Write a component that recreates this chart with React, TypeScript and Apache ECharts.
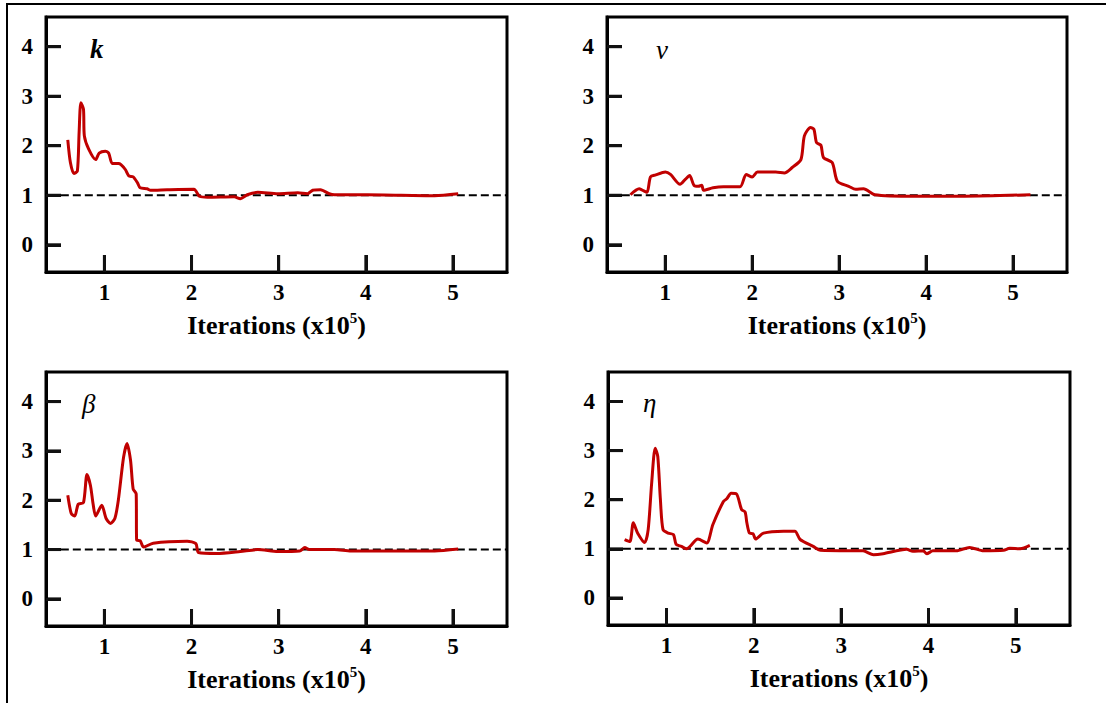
import React, { useEffect, useRef } from "react";
import * as echarts from "echarts";

// Convergence traces: [iterations (x10^5), value]
const kData: number[][] = [
  [0.58, 2.12], [0.61, 1.66], [0.65, 1.44], [0.69, 1.49], [0.71, 2.27], [0.73, 2.87],
  [0.76, 2.74], [0.77, 2.2], [0.82, 1.93], [0.9, 1.72], [0.94, 1.85], [1.01, 1.89],
  [1.05, 1.85], [1.09, 1.64], [1.16, 1.64], [1.19, 1.62], [1.24, 1.52], [1.28, 1.39],
  [1.33, 1.37], [1.38, 1.25], [1.41, 1.15], [1.49, 1.13], [1.53, 1.1], [1.72, 1.11],
  [2.03, 1.12], [2.06, 1.06], [2.09, 0.98], [2.18, 0.96], [2.49, 0.97], [2.56, 0.93],
  [2.64, 1.01], [2.76, 1.06], [2.99, 1.03], [3.22, 1.05], [3.33, 1.03], [3.39, 1.1],
  [3.48, 1.11], [3.58, 1.03], [3.64, 1.01], [4.02, 1.01], [4.79, 0.99], [5.06, 1.03],
];

const nuData: number[][] = [
  [0.6, 1.01], [0.7, 1.13], [0.73, 1.11], [0.79, 1.06], [0.83, 1.37], [0.89, 1.41],
  [1.0, 1.47], [1.06, 1.42], [1.17, 1.22], [1.23, 1.32], [1.28, 1.4], [1.33, 1.2],
  [1.38, 1.18], [1.42, 1.2], [1.44, 1.1], [1.55, 1.15], [1.67, 1.17], [1.86, 1.17],
  [1.93, 1.42], [2.0, 1.37], [2.06, 1.47], [2.27, 1.47], [2.37, 1.45], [2.46, 1.56],
  [2.56, 1.72], [2.6, 2.2], [2.67, 2.37], [2.71, 2.33], [2.74, 2.06], [2.79, 2.01],
  [2.82, 1.76], [2.92, 1.66], [2.98, 1.28], [3.11, 1.18], [3.19, 1.12], [3.28, 1.13],
  [3.41, 1.01], [3.87, 0.98], [4.44, 0.98], [5.2, 1.01],
];

const betaData: number[][] = [
  [0.58, 2.1], [0.62, 1.73], [0.66, 1.68], [0.7, 1.92], [0.76, 1.95], [0.8, 2.52],
  [0.84, 2.3], [0.87, 1.93], [0.9, 1.68], [0.97, 1.9], [1.02, 1.63], [1.07, 1.53],
  [1.12, 1.63], [1.16, 2.0], [1.22, 2.87], [1.26, 3.15], [1.3, 2.81], [1.33, 2.23],
  [1.365, 2.13], [1.37, 1.19], [1.41, 1.18], [1.45, 1.05], [1.56, 1.13], [1.95, 1.17],
  [2.05, 1.12], [2.08, 0.94], [2.29, 0.92], [2.56, 0.96], [2.76, 1.0], [2.99, 0.96],
  [3.24, 0.97], [3.3, 1.04], [3.35, 1.0], [3.64, 1.0], [3.83, 0.97], [4.79, 0.97],
  [5.06, 1.01],
];

const etaData: number[][] = [
  [0.52, 1.19], [0.58, 1.15], [0.62, 1.53], [0.67, 1.32], [0.75, 1.13], [0.79, 1.39],
  [0.83, 2.34], [0.87, 3.05], [0.9, 2.88], [0.93, 2.0], [0.96, 1.39], [1.02, 1.32],
  [1.08, 1.29], [1.11, 1.09], [1.17, 1.05], [1.23, 1.0], [1.36, 1.2], [1.46, 1.12],
  [1.53, 1.49], [1.65, 1.96], [1.69, 2.02], [1.74, 2.13], [1.8, 2.12], [1.86, 1.8],
  [1.9, 1.75], [1.92, 1.53], [1.95, 1.32], [1.99, 1.31], [2.02, 1.2], [2.11, 1.32],
  [2.34, 1.36], [2.47, 1.36], [2.53, 1.19], [2.68, 1.05], [2.76, 0.97], [3.1, 0.96],
  [3.25, 0.96], [3.37, 0.88], [3.48, 0.9], [3.75, 0.99], [3.82, 0.95], [3.94, 0.96],
  [3.98, 0.9], [4.05, 0.96], [4.32, 0.96], [4.47, 1.03], [4.63, 0.96], [4.86, 0.97],
  [4.93, 1.01], [5.05, 1.0], [5.16, 1.07],
];

const refLine: number[][] = [[0.5, 1], [5.62, 1]];

const xTicks = [1, 2, 3, 4, 5];
const yTicks = [0, 1, 2, 3, 4];
const panelLabels = ["k", "\u03BD", "\u03B2", "\u03B7"];
const axisTitle = "Iterations (x10";
const axisTitleExp = "5";

const FONT = "Liberation Serif";

export default function App() {
  const ref = useRef<HTMLDivElement>(null);
  useEffect(() => {
    if (!ref.current) return;
    const chart = echarts.init(ref.current, null, { renderer: "svg" });
    const grids = [
      { left: 46, top: 17, width: 461, height: 255 },
      { left: 607, top: 17, width: 460, height: 255 },
      { left: 46, top: 372, width: 461, height: 254 },
      { left: 608, top: 372, width: 462, height: 253 },
    ];
    const datasets = [kData, nuData, betaData, etaData];
    const labelPos = [
      { x: 90, y: 35, weight: "bold" },
      { x: 656, y: 36, weight: "normal" },
      { x: 82, y: 390, weight: "normal" },
      { x: 643, y: 389, weight: "normal" },
    ];

    const option: any = {
      animation: false,
      grid: grids.map((g) => ({ ...g, show: false })),
      xAxis: grids.map((_, i) => ({
        type: "value",
        gridIndex: i,
        min: 0.33,
        max: 5.62,
        axisLine: { show: true, onZero: false, lineStyle: { color: "#000", width: 3 } },
        splitLine: { show: false },
        axisTick: { show: true, inside: true, length: 17, lineStyle: { color: "#111", width: 3 } },
        axisLabel: {
          showMinLabel: false,
          showMaxLabel: false,
          color: "#000",
          fontFamily: FONT,
          fontWeight: "bold",
          fontSize: 23,
          margin: 9,
        },
        name: `{a|${axisTitle}}{s|${axisTitleExp}}{a|)}`,
        nameLocation: "middle",
        nameGap: 38,
        nameTextStyle: {
          fontFamily: FONT,
          fontWeight: "bold",
          fontSize: 26,
          color: "#000",
          rich: {
            a: { fontFamily: FONT, fontWeight: "bold", fontSize: 26, color: "#000", lineHeight: 30 },
            s: { fontFamily: FONT, fontWeight: "bold", fontSize: 15, color: "#000", verticalAlign: "top", lineHeight: 15 },
          },
        },
      })),
      yAxis: grids.map((_, i) => ({
        type: "value",
        gridIndex: i,
        min: -0.55,
        max: 4.6,
        axisLine: { show: true, onZero: false, lineStyle: { color: "#000", width: 3 } },
        splitLine: { show: false },
        axisTick: { show: true, inside: true, length: 15, lineStyle: { color: "#111", width: 3 } },
        axisLabel: {
          showMinLabel: false,
          showMaxLabel: false,
          color: "#000",
          fontFamily: FONT,
          fontWeight: "bold",
          fontSize: 23,
          margin: 13,
        },
      })),
      series: [
        ...datasets.map((d, i) => ({
          type: "line",
          xAxisIndex: i,
          yAxisIndex: i,
          data: refLine,
          showSymbol: false,
          silent: true,
          lineStyle: { color: "#000", width: 2, type: "dashed" },
          z: 2,
        })),
        ...datasets.map((d, i) => ({
          type: "line",
          xAxisIndex: i,
          yAxisIndex: i,
          data: d,
          showSymbol: false,
          smooth: 0.25,
          lineStyle: { color: "#c00000", width: 3 },
          z: 3,
        })),
      ],
    };
    chart.setOption(option);

    // Inside tick marks and panel boxes placed through the axes' own scales.
    const extraEls: any[] = [];
    grids.forEach((g, i) => {
      const bottom = g.top + g.height;
      extraEls.push({
        type: "rect",
        shape: { x: g.left, y: g.top, width: g.width, height: g.height },
        style: { fill: "none", stroke: "#000", lineWidth: 3 },
        silent: true,
      });
      xTicks.forEach((v) => {
        const p = chart.convertToPixel({ gridIndex: i }, [v, 1]) as number[];
        extraEls.push({
          type: "line",
          shape: { x1: p[0], y1: bottom, x2: p[0], y2: bottom - 17 },
          style: { stroke: "#1a1a1a", lineWidth: 3 },
        });
      });
      yTicks.forEach((v) => {
        const p = chart.convertToPixel({ gridIndex: i }, [1, v]) as number[];
        extraEls.push({
          type: "line",
          shape: { x1: g.left, y1: p[1], x2: g.left + 15, y2: p[1] },
          style: { stroke: "#1a1a1a", lineWidth: 3 },
        });
      });
    });

    chart.setOption({
      graphic: [
        { type: "line", shape: { x1: 7, y1: 3, x2: 7, y2: 703 }, style: { stroke: "#000", lineWidth: 2 } },
        { type: "line", shape: { x1: 6, y1: 4, x2: 1106, y2: 4 }, style: { stroke: "#000", lineWidth: 2 } },
        ...panelLabels.map((t, i) => ({
          type: "text",
          x: labelPos[i].x,
          y: labelPos[i].y,
          style: {
            text: t,
            font: `italic ${labelPos[i].weight} 27px ${FONT}`,
            fill: "#000",
          },
        })),
        ...extraEls,
      ],
    });
    return () => chart.dispose();
  }, []);
  return (
    <div
      ref={ref}
      style={{ position: "absolute", left: 0, top: 0, width: 1106, height: 703 }}
    />
  );
}
